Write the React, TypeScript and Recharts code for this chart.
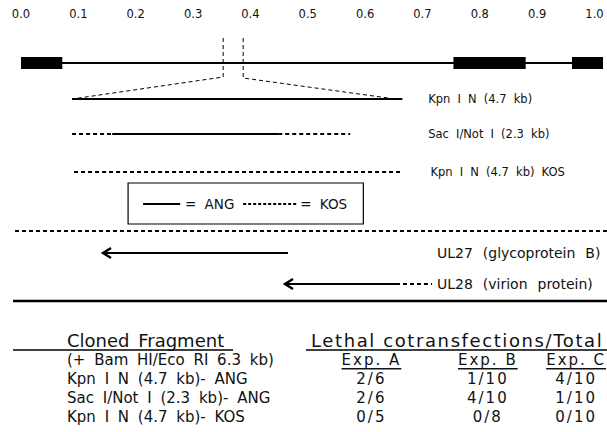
import React from 'react';
import { ComposedChart, Line, Scatter, XAxis, YAxis, ReferenceArea } from 'recharts';

// map units run 0.0 - 1.0 across the genome, rows are "tracks" going down the figure
const MAP_TICKS = [0, 0.1, 0.2, 0.3, 0.4, 0.5, 0.6, 0.7, 0.8, 0.9, 1.0];

const GENOME_LINE = [{ x: 0, y: 3.3 }, { x: 1.0148, y: 3.3 }];
const GENOME_BLOCKS = [
  { x1: 0, x2: 0.072, y1: 2.7, y2: 3.9 },
  { x1: 0.754, x2: 0.88, y1: 2.7, y2: 3.9 },
  { x1: 0.9608, x2: 1.0148, y1: 2.7, y2: 3.9 },
];
const ZOOM_LEFT = [{ x: 0.3525, y: 0.8 }, { x: 0.3525, y: 4.7 }, { x: 0.089, y: 6.9 }];
const ZOOM_RIGHT = [{ x: 0.3874, y: 0.8 }, { x: 0.3874, y: 4.8 }, { x: 0.6527, y: 6.9 }];

const KPN_ANG = [{ x: 0.089, y: 6.9 }, { x: 0.665, y: 6.9 }];
const SAC_KOS_L = [{ x: 0.089, y: 10.4 }, { x: 0.159, y: 10.4 }];
const SAC_ANG = [{ x: 0.159, y: 10.4 }, { x: 0.4485, y: 10.4 }];
const SAC_KOS_R = [{ x: 0.4485, y: 10.4 }, { x: 0.574, y: 10.4 }];
const KPN_KOS = [{ x: 0.0925, y: 14.2 }, { x: 0.665, y: 14.2 }];

const FRAG_LABELS = [
  { x: 0.71, y: 6.9, text: 'Kpn I N (4.7 kb)' },
  { x: 0.71, y: 10.4, text: 'Sac I/Not I (2.3 kb)' },
  { x: 0.714, y: 14.2, text: 'Kpn I N (4.7 kb) KOS' },
];

const LEGEND_BOX = { x1: 0.1867, x2: 0.5969, y1: 15.3, y2: 19.4 };
const LEGEND_ANG = [{ x: 0.2129, y: 17.4 }, { x: 0.2775, y: 17.4 }];
const LEGEND_KOS = [{ x: 0.3874, y: 17.4 }, { x: 0.4799, y: 17.4 }];
const LEGEND_TEXT = [
  { x: 0.286, y: 17.4, text: '= ANG' },
  { x: 0.4869, y: 17.4, text: '= KOS' },
];

const KOS_RULE = [{ x: -0.0105, y: 20.1 }, { x: 1.0218, y: 20.1 }];
const UL27 = [{ x: 0.143, y: 22.3 }, { x: 0.4656, y: 22.3 }];
const UL28 = [{ x: 0.4603, y: 25.4 }, { x: 0.6609, y: 25.4 }];
const UL28_TAIL = [{ x: 0.666, y: 25.4 }, { x: 0.7167, y: 25.4 }];
const GENE_LABELS = [
  { x: 0.7254, y: 22.3, text: 'UL27 (glycoprotein B)' },
  { x: 0.7254, y: 25.4, text: 'UL28 (virion protein)' },
];
const BASE_RULE = [{ x: -0.014, y: 27.1 }, { x: 1.0218, y: 27.1 }];

// table
const TABLE_HEAD = [
  { x: 0.0802, y: 31.0, text: 'Cloned Fragment' },
  { x: 0.5057, y: 31.0, text: 'Lethal cotransfections/Total' },
];
const HEAD_RULE_L = [{ x: -0.0139, y: 32.0 }, { x: 0.3697, y: 32.0 }];
const HEAD_RULE_R = [{ x: 0.4969, y: 32.0 }, { x: 1.0218, y: 32.0 }];
const FRAGMENTS = ['(+ Bam HI/Eco RI 6.3 kb)', 'Kpn I N (4.7 kb)- ANG', 'Sac I/Not I (2.3 kb)- ANG', 'Kpn I N (4.7 kb)- KOS'];
const ROW_Y = [33.0, 34.9, 36.8, 38.7];
const EXPERIMENTS = ['Exp. A', 'Exp. B', 'Exp. C'];
const EXP_X = [0.611, 0.814, 0.968];
const RESULTS = [
  ['2/6', '1/10', '4/10'],
  ['2/6', '4/10', '1/10'],
  ['0/5', '0/8', '0/10'],
];

const fragCells = FRAGMENTS.map((t, i) => ({ x: 0.0802, y: ROW_Y[i], text: t }));
const expCells = EXPERIMENTS.map((t, j) => ({ x: EXP_X[j], y: ROW_Y[0], text: t }));
const resultCells = RESULTS.flatMap((row, i) => row.map((t, j) => ({ x: EXP_X[j], y: ROW_Y[i + 1], text: t })));

const FONT = '"DejaVu Sans", sans-serif';

const textShape = (size: number, anchor: string, extra: any = {}) => (p: any) => (
  <text x={p.cx} y={p.cy} dominantBaseline="central" textAnchor={anchor}
    fontFamily={FONT} fontSize={size} fill="#111" {...extra}>
    {p.payload.text}
  </text>
);

const arrowTip = (p: any) => p.index === 0
  ? <path key={p.index} d={`M${p.cx + 8},${p.cy - 5} L${p.cx},${p.cy} L${p.cx + 8},${p.cy + 5}`}
      fill="none" stroke="#000" strokeWidth={2.4} />
  : <g key={p.index} />;

const seg = (data: any[], width: number, dash?: string, dot: any = false) => (
  <Line data={data} dataKey="y" type="linear" stroke="#000" strokeWidth={width}
    strokeDasharray={dash} dot={dot} activeDot={false} isAnimationActive={false} legendType="none" />
);

const MapTick = ({ x, y, payload }: any) => (
  <text x={x} y={y} dy={-4} textAnchor="middle" fontFamily={FONT} fontSize={11.5} fill="#111">
    {payload.value.toFixed(1)}
  </text>
);

export default function App() {
  return (
    <div style={{ position: 'absolute', left: 0, top: 0, background: '#fff' }}>
      <ComposedChart width={607} height={432} margin={{ top: 0, right: 0, bottom: 0, left: 10 }}>
        <XAxis dataKey="x" type="number" orientation="top" domain={[-0.0192, 1.0218]}
          ticks={MAP_TICKS} height={30} axisLine={false} tickLine={false} interval={0}
          tick={<MapTick />} />
        <YAxis dataKey="y" type="number" domain={[0, 40.2]} reversed hide />

        {GENOME_BLOCKS.map((b, i) => (
          <ReferenceArea key={i} {...b} fill="#000" fillOpacity={1} ifOverflow="visible" />
        ))}
        {seg(GENOME_LINE, 1.8)}
        {seg(ZOOM_LEFT, 1, '4 3')}
        {seg(ZOOM_RIGHT, 1, '4 3')}

        {seg(KPN_ANG, 2)}
        {seg(SAC_KOS_L, 2, '4 3')}
        {seg(SAC_ANG, 2)}
        {seg(SAC_KOS_R, 2, '4 3')}
        {seg(KPN_KOS, 2, '4 3')}
        <Scatter data={FRAG_LABELS} dataKey="y" shape={textShape(11.5, 'start', { wordSpacing: 3.5 })} isAnimationActive={false} />

        <ReferenceArea {...LEGEND_BOX} fill="none" stroke="#000" strokeWidth={1.2} ifOverflow="visible" />
        {seg(LEGEND_ANG, 2)}
        {seg(LEGEND_KOS, 2, '3 2')}
        <Scatter data={LEGEND_TEXT} dataKey="y" shape={textShape(13.5, 'start', { wordSpacing: 4 })} isAnimationActive={false} />

        {seg(KOS_RULE, 2.2, '4 3')}
        {seg(UL27, 2.2, undefined, arrowTip)}
        {seg(UL28, 2.2, undefined, arrowTip)}
        {seg(UL28_TAIL, 2, '4 3')}
        <Scatter data={GENE_LABELS} dataKey="y" shape={textShape(14, 'start', { wordSpacing: 5.5 })} isAnimationActive={false} />
        {seg(BASE_RULE, 2.4)}

        {seg(HEAD_RULE_L, 1.4)}
        {seg(HEAD_RULE_R, 1.4)}
        <Scatter data={TABLE_HEAD.slice(0, 1)} dataKey="y" shape={textShape(18, 'start', { wordSpacing: 3 })} isAnimationActive={false} />
        <Scatter data={TABLE_HEAD.slice(1)} dataKey="y" shape={textShape(18, 'start', { letterSpacing: 1.6 })} isAnimationActive={false} />
        <Scatter data={fragCells} dataKey="y" shape={textShape(15, 'start', { wordSpacing: 4 })} isAnimationActive={false} />
        <Scatter data={expCells} dataKey="y" shape={textShape(15, 'middle', { textDecoration: 'underline', letterSpacing: 2 })} isAnimationActive={false} />
        <Scatter data={resultCells} dataKey="y" shape={textShape(15, 'middle', { letterSpacing: 2 })} isAnimationActive={false} />
      </ComposedChart>
    </div>
  );
}
